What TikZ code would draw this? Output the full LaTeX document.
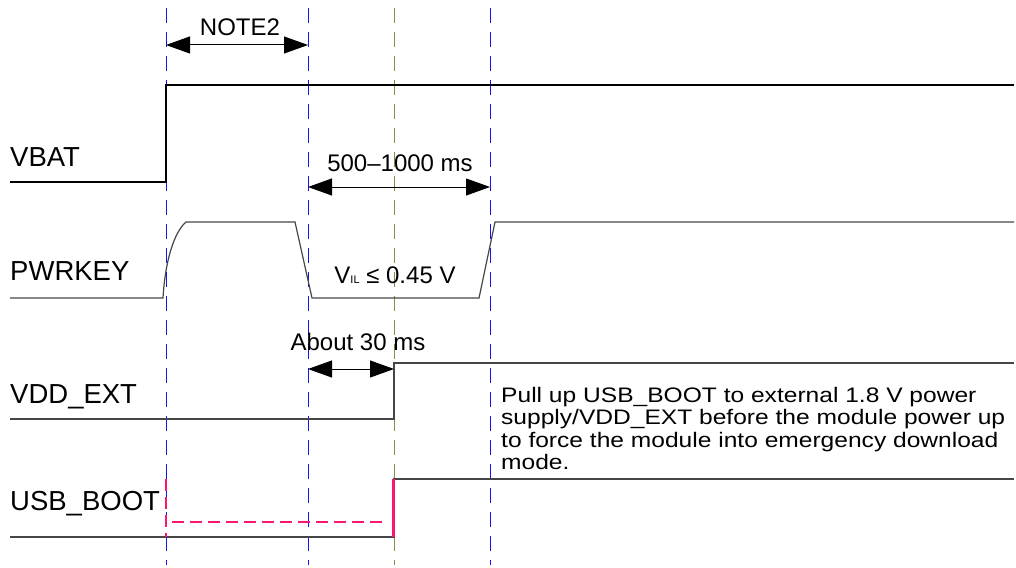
\documentclass[tikz,border=0pt]{standalone}
\usepackage{fontspec}
\setmainfont{Liberation Sans}
\newfontfamily\notefont[FakeStretch=1.17]{Liberation Sans}
\usetikzlibrary{arrows.meta}
\definecolor{sig}{RGB}{70,70,70}
\definecolor{guideblue}{RGB}{20,20,235}
\definecolor{guideolive}{RGB}{125,145,75}
\definecolor{bootpink}{RGB}{255,20,110}
\begin{document}
\begin{tikzpicture}[x=1pt,y=-1pt,
  sigline/.style={draw=sig, line width=1.2pt},
  guide/.style={draw=guideblue, line width=1pt, dash pattern=on 15pt off 9pt},
  guideo/.style={draw=guideolive, line width=1pt, dash pattern=on 15pt off 9pt},
  dim/.style={draw=black, line width=1pt, {Triangle[length=24pt,width=17pt]}-{Triangle[length=24pt,width=17pt]}},
  lbl/.style={font=\fontsize{27.5}{30}\selectfont, anchor=base west, inner sep=0pt},
  dimlbl/.style={font=\fontsize{24}{28}\selectfont, anchor=base, inner sep=0pt},
  boot/.style={draw=bootpink, line width=2.2pt, dash pattern=on 12pt off 6pt}]
\useasboundingbox (0,0) rectangle (1016,567);
% time marks
\coordinate (t1top) at (166,8);   \coordinate (t1bot) at (166,565);
\coordinate (t2top) at (308,8);   \coordinate (t2bot) at (308,565);
\coordinate (t3top) at (394,8);   \coordinate (t3bot) at (394,565);
\coordinate (t4top) at (490,8);   \coordinate (t4bot) at (490,565);
\draw[guide] (t1top) -- (t1bot);
\draw[guide] (t2top) -- (t2bot);
\draw[guideo] (t3top) -- (t3bot);
\draw[guide] (t4top) -- (t4bot);
% labels
\node[lbl] (lvbat) at (10,166) {VBAT};
\node[lbl] (lpwr) at (10,280) {PWRKEY};
\node[lbl] (lvdd) at (10,403) {VDD\_EXT};
\node[lbl] (lboot) at (10,510) {USB\_BOOT};
% VBAT
\coordinate (vb0) at (10,182); \coordinate (vb1) at (166,182);
\coordinate (vb2) at (166,85); \coordinate (vb3) at (1014,85);
\draw[line width=1.2pt] (vb0) -- (vb1) -- (vb2) -- (vb3);
% PWRKEY
\coordinate (pk0) at (10,298); \coordinate (pk1) at (163,298);
\coordinate (pk2) at (186,222); \coordinate (pk3) at (295,222);
\coordinate (pk4) at (312,298); \coordinate (pk5) at (479,298);
\coordinate (pk6) at (495,222); \coordinate (pk7) at (1014,222);
\draw[sigline] (pk0) -- (pk1) .. controls (165,262) and (174,232) .. (pk2) -- (pk3) -- (pk4) -- (pk5) -- (pk6) -- (pk7);
\node[dimlbl] (vil) at (395,283) {V{\fontsize{11}{12}\selectfont IL} ≤ 0.45 V};
% VDD_EXT
\coordinate (ve0) at (10,419); \coordinate (ve1) at (394,419);
\coordinate (ve2) at (394,363); \coordinate (ve3) at (1014,363);
\draw[sigline] (ve0) -- (ve1) -- (ve2) -- (ve3);
% USB_BOOT
\coordinate (ub0) at (10,537); \coordinate (ub1) at (394,537);
\coordinate (ub2) at (394,479); \coordinate (ub3) at (1014,479);
\draw[sigline] (ub0) -- (ub1) -- (ub2) -- (ub3);
\coordinate (pr0) at (393.5,537); \coordinate (pr1) at (393.5,479);
\draw[draw=bootpink, line width=2.2pt] (pr0) -- (pr1);
\coordinate (pb0) at (166,479); \coordinate (pb1) at (166,537);
\coordinate (pb2) at (172,522); \coordinate (pb3) at (387,522);
\draw[boot] (pb0) -- (pb1);
\draw[boot] (pb2) -- (pb3);
% dimensions
\coordinate (d1a) at (166,45); \coordinate (d1b) at (308,45);
\draw[dim] (d1a) -- (d1b);
\node[dimlbl] (note2) at (240,36) {NOTE2};
\coordinate (d2a) at (308,187); \coordinate (d2b) at (490,187);
\draw[dim] (d2a) -- (d2b);
\node[dimlbl] (dur) at (400,171) {500–1000 ms};
\coordinate (d3a) at (308,369); \coordinate (d3b) at (394,369);
\draw[dim] (d3a) -- (d3b);
\node[dimlbl] (about) at (358,350) {About 30 ms};
% note
\node[anchor=north west, inner sep=0pt, align=left,
      font=\notefont\fontsize{21}{22.5}\selectfont] (note) at (501,387)
  {Pull up USB\_BOOT to external 1.8 V power\\supply/VDD\_EXT before the module power up\\to force the module into emergency download\\mode.};
\end{tikzpicture}
\end{document}
